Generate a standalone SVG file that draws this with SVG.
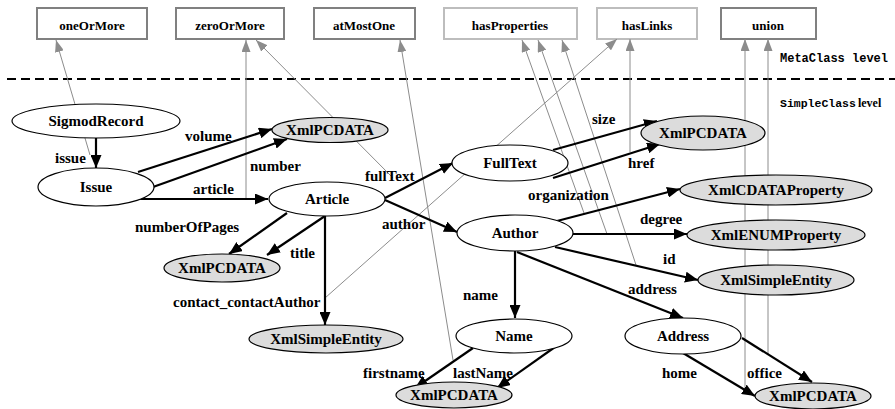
<svg xmlns="http://www.w3.org/2000/svg" width="895" height="409" viewBox="0 0 895 409" font-family="Liberation Serif, serif" font-weight="bold">
<style>
.box{fill:#fff;stroke:#808080;stroke-width:2}
.boxl{fill:#fff;stroke:#bdbdbd;stroke-width:2}
.nd{fill:#fff;stroke:#000;stroke-width:1.2}
.nds{fill:#dcdcdc;stroke:#000;stroke-width:1.2}
.e{stroke:#000;stroke-width:2.2;fill:none;marker-end:url(#ab)}
.g{stroke:#8c8c8c;stroke-width:1;fill:none;marker-end:url(#ag)}
</style>
<defs>
<marker id="ab" markerUnits="userSpaceOnUse" markerWidth="13" markerHeight="11" refX="13" refY="5.5" orient="auto"><path d="M0,0 L13,5.5 L0,11 z" fill="#000"/></marker>
<marker id="ag" markerUnits="userSpaceOnUse" markerWidth="12" markerHeight="9" refX="12" refY="4.5" orient="auto"><path d="M0,0 L12,4.5 L0,9 z" fill="#8c8c8c"/></marker>
</defs>

<g id="meta" font-family="Liberation Serif, serif" font-weight="bold" font-size="13" text-anchor="middle">
<g id="oneOrMore"><rect class="box" x="37" y="8" width="110" height="31"/><text x="92" y="30">oneOrMore</text></g>
<g id="zeroOrMore"><rect class="box" x="176" y="8" width="108" height="31"/><text x="230" y="30">zeroOrMore</text></g>
<g id="atMostOne"><rect class="box" x="314" y="8" width="101" height="31"/><text x="364" y="30">atMostOne</text></g>
<g id="hasProperties"><rect class="boxl" x="444" y="8" width="133" height="31"/><text x="510" y="30">hasProperties</text></g>
<g id="hasLinks"><rect class="boxl" x="597" y="8" width="100" height="31"/><text x="647" y="30">hasLinks</text></g>
<g id="union"><rect class="box" x="721" y="8" width="95" height="31"/><text x="768" y="30">union</text></g>
</g>

<line x1="7" y1="79" x2="895" y2="79" stroke="#000" stroke-width="2" stroke-dasharray="9,5"/>
<text x="780" y="62" font-family="Liberation Mono, monospace" font-weight="bold" font-size="12">MetaClass level</text>
<text x="780" y="107"><tspan font-family="Liberation Mono, monospace" font-weight="bold" font-size="11.5">SimpleClass</tspan><tspan font-family="Liberation Serif, serif" font-weight="bold" font-size="12" dx="2">level</tspan></text>

<g id="connectors">
<line class="g" x1="90" y1="155" x2="56" y2="40"/>
<line class="g" x1="246" y1="198" x2="246" y2="40"/>
<line class="g" x1="393" y1="178" x2="256" y2="40"/>
<line class="g" x1="453" y1="360" x2="400" y2="40"/>
<line class="g" x1="584" y1="213" x2="522" y2="40"/>
<line class="g" x1="607" y1="234" x2="538" y2="40"/>
<line class="g" x1="636" y1="265" x2="562" y2="40"/>
<line class="g" x1="325" y1="298" x2="617" y2="39"/>
<line class="g" x1="630" y1="152" x2="630" y2="39"/>
<line class="g" x1="745" y1="390" x2="745" y2="39"/>
<line class="g" x1="768" y1="355" x2="768" y2="39"/>

<line class="e" x1="96" y1="138" x2="96" y2="168"/>
<line class="e" x1="138" y1="172" x2="272" y2="129"/>
<line class="e" x1="153" y1="187" x2="287" y2="139"/>
<line class="e" x1="138" y1="199" x2="268" y2="199"/>
<line class="e" x1="385" y1="198" x2="453" y2="163"/>
<line class="e" x1="385" y1="200" x2="457" y2="232"/>
<line class="e" x1="287" y1="213" x2="229" y2="254"/>
<line class="e" x1="325" y1="216" x2="267" y2="255"/>
<line class="e" x1="325" y1="216" x2="325" y2="325"/>
<line class="e" x1="553" y1="150" x2="657" y2="121"/>
<line class="e" x1="553" y1="178" x2="660" y2="144"/>
<line class="e" x1="557" y1="221" x2="680" y2="189"/>
<line class="e" x1="573" y1="234" x2="687" y2="234"/>
<line class="e" x1="555" y1="247" x2="698" y2="280"/>
<line class="e" x1="515" y1="251" x2="515" y2="318"/>
<line class="e" x1="517" y1="252" x2="683" y2="318"/>
<line class="e" x1="473" y1="348" x2="415" y2="388"/>
<line class="e" x1="555" y1="347" x2="497" y2="388"/>
<line class="e" x1="683" y1="353" x2="755" y2="396"/>
<line class="e" x1="742" y1="338" x2="812" y2="382"/>

<g font-family="Liberation Serif, serif" font-weight="bold" font-size="15">
<text x="55" y="163">issue</text>
<text x="185" y="141">volume</text>
<text x="250" y="171">number</text>
<text x="193" y="194">article</text>
<text x="365" y="181">fullText</text>
<text x="382" y="229">author</text>
<text x="135" y="232">numberOfPages</text>
<text x="290" y="258">title</text>
<text x="173" y="307">contact_contactAuthor</text>
<text x="592" y="124">size</text>
<text x="628" y="168">href</text>
<text x="528" y="200">organization</text>
<text x="640" y="224">degree</text>
<text x="663" y="264">id</text>
<text x="463" y="300">name</text>
<text x="628" y="294">address</text>
<text x="363" y="378">firstname</text>
<text x="453" y="378">lastName</text>
<text x="662" y="378">home</text>
<text x="747" y="378">office</text>
</g>
</g>

<g id="nodes" font-family="Liberation Serif, serif" font-weight="bold" font-size="15" text-anchor="middle">
<g id="SigmodRecord"><ellipse class="nd" cx="96" cy="121" rx="84" ry="17"/><text x="96" y="126">SigmodRecord</text></g>
<g id="Issue"><ellipse class="nd" cx="96" cy="187" rx="58" ry="19"/><text x="96" y="192">Issue</text></g>
<g id="XmlPCDATA1"><ellipse class="nds" cx="330" cy="130" rx="58" ry="12.5"/><text x="330" y="135">XmlPCDATA</text></g>
<g id="Article"><ellipse class="nd" cx="327" cy="199" rx="58" ry="17"/><text x="327" y="204">Article</text></g>
<g id="XmlPCDATA2"><ellipse class="nds" cx="222" cy="268" rx="58" ry="14"/><text x="222" y="273">XmlPCDATA</text></g>
<g id="XmlSimpleEntity1"><ellipse class="nds" cx="326" cy="339" rx="77" ry="14"/><text x="326" y="344">XmlSimpleEntity</text></g>
<g id="FullText"><ellipse class="nd" cx="510" cy="163" rx="58" ry="18"/><text x="510" y="168">FullText</text></g>
<g id="XmlPCDATA3"><ellipse class="nds" cx="703" cy="133" rx="62" ry="17"/><text x="703" y="138">XmlPCDATA</text></g>
<g id="XmlCDATAProperty"><ellipse class="nds" cx="776" cy="190" rx="96" ry="15"/><text x="776" y="195">XmlCDATAProperty</text></g>
<g id="Author"><ellipse class="nd" cx="515" cy="233" rx="58" ry="18"/><text x="515" y="238">Author</text></g>
<g id="XmlENUMProperty"><ellipse class="nds" cx="776" cy="235" rx="89" ry="15"/><text x="776" y="240">XmlENUMProperty</text></g>
<g id="XmlSimpleEntity2"><ellipse class="nds" cx="776" cy="280" rx="78" ry="15"/><text x="776" y="285">XmlSimpleEntity</text></g>
<g id="Name"><ellipse class="nd" cx="514" cy="336" rx="58" ry="17"/><text x="514" y="341">Name</text></g>
<g id="Address"><ellipse class="nd" cx="683" cy="336" rx="58" ry="18"/><text x="683" y="341">Address</text></g>
<g id="XmlPCDATA4"><ellipse class="nds" cx="454" cy="395" rx="58" ry="13"/><text x="454" y="400">XmlPCDATA</text></g>
<g id="XmlPCDATA5"><ellipse class="nds" cx="813" cy="396" rx="58" ry="13"/><text x="813" y="401">XmlPCDATA</text></g>
</g>
</svg>
